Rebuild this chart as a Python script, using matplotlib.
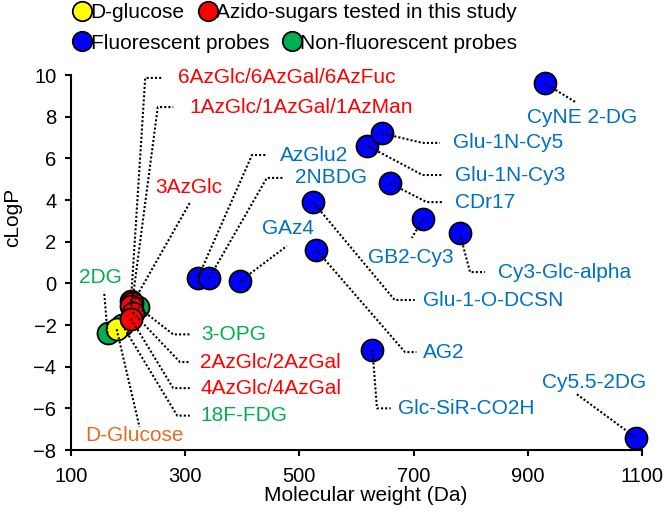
import matplotlib.pyplot as plt
from matplotlib.lines import Line2D

plt.rcParams['font.family'] = ['Liberation Sans', 'DejaVu Sans']

# D-glucose
glucose_names = ["D-Glucose"]
glucose_mw = [180]
glucose_logp = [-2.2]

# azido-sugars tested in this study
azido_names = ["6AzGlc/6AzGal/6AzFuc", "1AzGlc/1AzGal/1AzMan", "3AzGlc",
               "2AzGlc/2AzGal", "4AzGlc/4AzGal"]
azido_mw = [205, 207, 205, 208, 205]
azido_logp = [-0.85, -0.95, -1.1, -1.4, -1.7]

# non-fluorescent probes
nonfl_names = ["2DG", "18F-FDG", "3-OPG"]
nonfl_mw = [164, 190, 218]
nonfl_logp = [-2.4, -2.0, -1.15]

# fluorescent probes
fl_names = ["AzGlu2", "2NBDG", "GAz4", "Glu-1-O-DCSN", "AG2", "Glu-1N-Cy3",
            "Glu-1N-Cy5", "CDr17", "GB2-Cy3", "Cy3-Glc-alpha", "Glc-SiR-CO2H",
            "CyNE 2-DG", "Cy5.5-2DG"]
fl_mw = [322, 342, 396, 524, 530, 619, 645, 659, 717, 781, 628, 930, 1089]
fl_logp = [0.25, 0.25, 0.1, 3.9, 1.6, 6.6, 7.2, 4.8, 3.1, 2.4, -3.2, 9.6, -7.4]

# label placement: text anchor (left, centre) and leader knee points
label_layout = {
    "6AzGlc/6AzGal/6AzFuc": ((287, 9.86), [(230, 9.86), (259, 9.86)]),
    "1AzGlc/1AzGal/1AzMan": ((308, 8.46), [(252, 8.46), (279, 8.46)]),
    "3AzGlc": ((247, 4.58), [(308, 3.86)]),
    "AzGlu2": ((466, 6.16), [(417, 6.16), (443, 6.16)]),
    "2NBDG": ((492, 5.06), [(443, 5.06), (471, 5.06)]),
    "GAz4": ((434, 2.65), [(478, 1.79)]),
    "Glu-1N-Cy5": ((769, 6.74), [(716, 6.74), (746, 6.74)]),
    "Glu-1N-Cy3": ((772, 5.2), [(716, 5.2), (750, 5.2)]),
    "CDr17": ((772, 3.9), [(723, 3.9), (751, 3.9)]),
    "GB2-Cy3": ((620, 1.26), [(697, 2.18)]),
    "Cy3-Glc-alpha": ((848, 0.54), [(799, 0.54), (825, 0.54)]),
    "CyNE 2-DG": ((898, 7.94), [(986, 8.66)]),
    "Glu-1-O-DCSN": ((716, -0.8), [(667, -0.8), (702, -0.8)]),
    "AG2": ((716, -3.3), [(685, -3.3), (705, -3.3)]),
    "Glc-SiR-CO2H": ((672, -6.0), [(636, -6.0), (660, -6.0)]),
    "Cy5.5-2DG": ((925, -4.75), [(985, -5.3)]),
    "3-OPG": ((329, -2.45), [(279, -2.45), (308, -2.45)]),
    "2AzGlc/2AzGal": ((326, -3.78), [(291, -3.78), (308, -3.78)]),
    "4AzGlc/4AzGal": ((326, -5.03), [(279, -5.03), (308, -5.03)]),
    "18F-FDG": ((326, -6.35), [(286, -6.35), (308, -6.35)]),
    "D-Glucose": ((125, -7.28), [(220, -6.9)]),
    "2DG": ((114, 0.3), [(158, -0.4)]),
}

groups = [
    (nonfl_names, nonfl_mw, nonfl_logp, "#00B050", "#00B050"),
    (glucose_names, glucose_mw, glucose_logp, "#FFFF00", "#E46C24"),
    (fl_names, fl_mw, fl_logp, "#0000FF", "#0070C0"),
    (azido_names, azido_mw, azido_logp, "#FF0000", "#FF0000"),
]

fig = plt.figure(figsize=(6.66, 5.13), dpi=100)
ax = fig.add_axes([0.1066, 0.1228, 0.8572, 0.731])

for names, mw, logp, fc, tc in groups:
    ax.scatter(mw, logp, s=250, c=fc, edgecolors="black", linewidths=1.3,
               zorder=3, clip_on=False)
    for name, x, y in zip(names, mw, logp):
        (tx, ty), knees = label_layout[name]
        xs = [x] + [k[0] for k in knees]
        ys = [y] + [k[1] for k in knees]
        ax.plot(xs, ys, color="black", lw=1.5, linestyle=(0, (1, 1)), zorder=4,
                clip_on=False)
        ax.text(tx, ty, name, color=tc, fontsize=15, ha="left", va="center")

ax.set_xlim(100, 1100)
ax.set_ylim(-8, 10)
ax.set_xticks(range(100, 1101, 200))
ax.set_yticks(range(-8, 11, 2))
ax.spines["top"].set_visible(False)
ax.spines["right"].set_visible(False)
for s in ["left", "bottom"]:
    ax.spines[s].set_linewidth(1.5)
ax.tick_params(direction="out", length=4.5, width=1.5, labelsize=14.5)
ax.tick_params(axis="x", pad=8)
ax.tick_params(axis="y", pad=6)
ax.set_xlabel("Molecular weight (Da)", fontsize=15)
ax.set_ylabel("cLogP", fontsize=15)
ax.xaxis.set_label_coords(0.517, -0.095)
ax.yaxis.set_label_coords(-0.086, 0.62)

def handle(color):
    return Line2D([], [], marker="o", linestyle="none", markersize=14,
                  markerfacecolor=color, markeredgecolor="black", markeredgewidth=1.3)

leg_kw = dict(frameon=False, fontsize=15, handlelength=0.8, handletextpad=0.0,
              columnspacing=0.7, borderpad=0, borderaxespad=0, ncol=2, loc="center left")
fig.legend([handle("#FFFF00"), handle("#FF0000")],
           ["D-glucose", "Azido-sugars tested in this study"],
           bbox_to_anchor=(0.111, 0.976), **leg_kw)
fig.legend([handle("#0000FF"), handle("#00B050")],
           ["Fluorescent probes", "Non-fluorescent probes"],
           bbox_to_anchor=(0.111, 0.916), **leg_kw)

fig.savefig("out.png", dpi=100)
